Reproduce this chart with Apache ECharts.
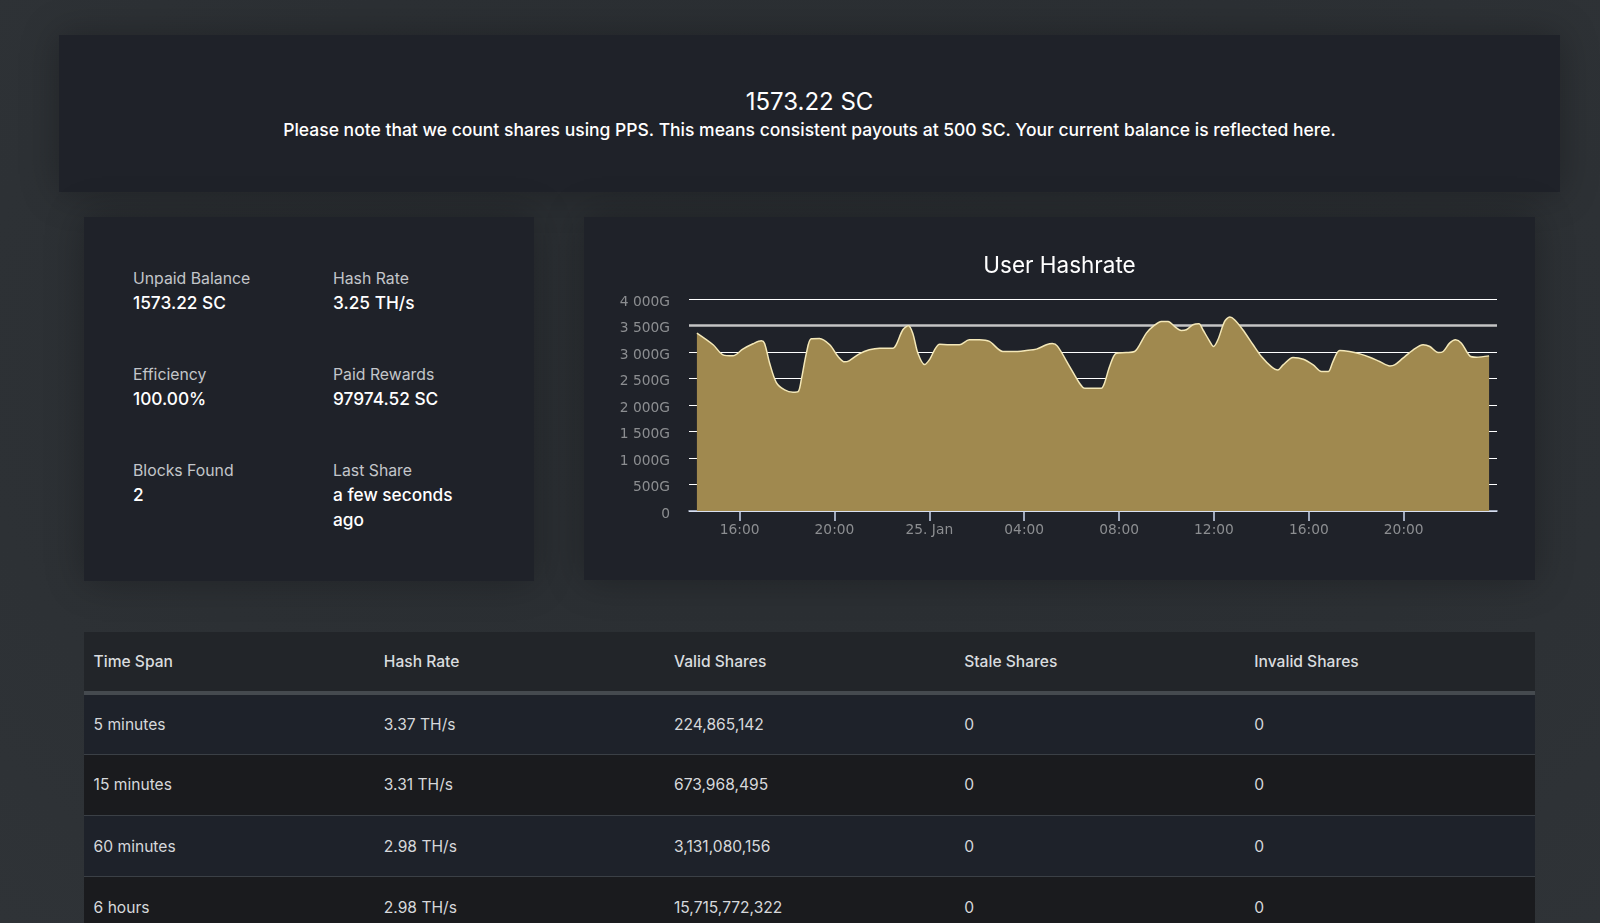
<!DOCTYPE html>
<html>
<head>
<meta charset="utf-8">
<script src="https://cdn.jsdelivr.net/npm/echarts@6/dist/echarts.min.js"></script>
<style>
  html, body { margin:0; padding:0; width:1600px; height:923px; overflow:hidden; }
  body { background: radial-gradient(ellipse at 50% 40%, #2a2e32 0%, #2c3034 60%, #2f3337 100%); font-family: Inter, "Noto Sans", sans-serif; color:#fff; position:relative; }
  .card { position:absolute; background:#1f2229; box-shadow: 0 0 36px rgba(0,0,0,0.28); }
  #banner { left:59px; top:35px; width:1501px; height:157px; text-align:center; }
  #banner .big { position:absolute; left:0; right:0; top:53px; font-size:24px; line-height:28px; color:#fff; }
  #banner .note { position:absolute; left:0; right:0; top:84px; font-size:17.5px; line-height:22px; font-weight:500; color:#fff; }
  #stats { left:84px; top:217px; width:450px; height:364px; }
  .stat { position:absolute; width:150px; }
  .stat .lab { font-size:15.8px; line-height:22px; color:#c3c6ca; }
  .stat .val { font-size:17.3px; line-height:25px; font-weight:500; color:#fff; width:140px; }
  #chartcard { left:584px; top:217px; width:951px; height:363px; }
  #chart { position:absolute; left:0; top:0; width:951px; height:363px; }
  #tbl { position:absolute; left:84px; top:632px; width:1451px; border-collapse:collapse; table-layout:fixed; font-size:15.6px; }
  #tbl th, #tbl td { text-align:left; padding:0 0 0 9.6px; box-sizing:border-box; }
  #tbl thead tr { background:#222529; height:61px; }
  #tbl th { font-weight:500; color:#d9dcdf; border-bottom:4px solid #454a4f; }
  #tbl tbody tr { height:61.3px; }
  #tbl td { color:#d6d8db; border-top:1px solid #3b4046; }
  #tbl tbody tr:nth-child(odd) { background:#1e222a; }
  #tbl tbody tr:nth-child(even) { background:#1a1b1e; }
  #tbl tbody tr:first-child td { border-top:none; }
</style>
</head>
<body>
<div class="card" id="banner">
  <div class="big">1573.22 SC</div>
  <div class="note">Please note that we count shares using PPS. This means consistent payouts at 500 SC. Your current balance is reflected here.</div>
</div>

<div class="card" id="stats"></div>

<div class="card" id="chartcard"><div id="chart"></div></div>

<table id="tbl">
  <colgroup><col><col><col><col><col></colgroup>
  <thead><tr id="thead"></tr></thead>
  <tbody id="tbody"></tbody>
</table>

<script>
// ---- page data ----
const statLabels = ['Unpaid Balance', 'Hash Rate', 'Efficiency', 'Paid Rewards', 'Blocks Found', 'Last Share'];
const statValues = ['1573.22 SC', '3.25 TH/s', '100.00%', '97974.52 SC', '2', 'a few seconds ago'];

const tableHeaders = ['Time Span', 'Hash Rate', 'Valid Shares', 'Stale Shares', 'Invalid Shares'];
const spans = ['5 minutes', '15 minutes', '60 minutes', '6 hours'];
const spanHashRates = ['3.37 TH/s', '3.31 TH/s', '2.98 TH/s', '2.98 TH/s'];
const validShares = ['224,865,142', '673,968,495', '3,131,080,156', '15,715,772,322'];
const staleShares = ['0', '0', '0', '0'];
const invalidShares = ['0', '0', '0', '0'];

// ---- chart data (hashrate in G) ----
const times = [
  '2018-01-24 14:12','2018-01-24 14:53','2018-01-24 15:18','2018-01-24 15:43','2018-01-24 16:08',
  '2018-01-24 16:34','2018-01-24 16:55','2018-01-24 17:03','2018-01-24 17:16','2018-01-24 17:33',
  '2018-01-24 17:54','2018-01-24 18:15','2018-01-24 18:28','2018-01-24 18:36','2018-01-24 18:49',
  '2018-01-24 19:01','2018-01-24 19:22','2018-01-24 19:48','2018-01-24 20:09','2018-01-24 20:26',
  '2018-01-24 20:38','2018-01-24 21:03','2018-01-24 21:28','2018-01-24 21:54','2018-01-24 22:28',
  '2018-01-24 22:36','2018-01-24 22:53','2018-01-24 23:07','2018-01-24 23:18','2018-01-24 23:31',
  '2018-01-24 23:48','2018-01-25 00:00','2018-01-25 00:26','2018-01-25 00:51','2018-01-25 01:16',
  '2018-01-25 01:41','2018-01-25 02:07','2018-01-25 02:32','2018-01-25 03:06','2018-01-25 03:31',
  '2018-01-25 04:05','2018-01-25 04:31','2018-01-25 04:56','2018-01-25 05:11','2018-01-25 05:24',
  '2018-01-25 05:55','2018-01-25 06:20','2018-01-25 06:33','2018-01-25 06:54','2018-01-25 07:15',
  '2018-01-25 07:23','2018-01-25 07:36','2018-01-25 07:53','2018-01-25 08:18','2018-01-25 08:39',
  '2018-01-25 08:52','2018-01-25 09:09','2018-01-25 09:26','2018-01-25 09:47','2018-01-25 10:04',
  '2018-01-25 10:20','2018-01-25 10:37','2018-01-25 10:50','2018-01-25 11:07','2018-01-25 11:22',
  '2018-01-25 11:32','2018-01-25 11:47','2018-01-25 11:59','2018-01-25 12:10','2018-01-25 12:27',
  '2018-01-25 12:40','2018-01-25 12:52','2018-01-25 13:13','2018-01-25 13:39','2018-01-25 14:00',
  '2018-01-25 14:25','2018-01-25 14:42','2018-01-25 14:55','2018-01-25 15:20','2018-01-25 15:46',
  '2018-01-25 16:11','2018-01-25 16:32','2018-01-25 16:49','2018-01-25 17:01','2018-01-25 17:18',
  '2018-01-25 17:43','2018-01-25 18:09','2018-01-25 18:34','2018-01-25 18:59','2018-01-25 19:25',
  '2018-01-25 19:37','2018-01-25 19:58','2018-01-25 20:24','2018-01-25 20:49','2018-01-25 21:06',
  '2018-01-25 21:27','2018-01-25 21:40','2018-01-25 21:56','2018-01-25 22:11','2018-01-25 22:26',
  '2018-01-25 22:47','2018-01-25 23:04','2018-01-25 23:36'
];
const hashrates = [
  3356,3136,2946,2927,3054,
  3155,3211,3167,2789,2423,
  2284,2240,2252,2473,2978,
  3249,3255,3136,2915,2814,
  2839,2965,3041,3072,3072,
  3136,3420,3495,3356,2978,
  2763,2852,3148,3136,3136,
  3230,3230,3199,3009,3009,
  3028,3054,3136,3160,3110,
  2725,2410,2315,2315,2315,
  2410,2725,2978,2990,3009,
  3136,3356,3483,3577,3577,
  3483,3407,3420,3514,3533,
  3420,3230,3104,3230,3577,
  3659,3609,3420,3136,2915,
  2725,2662,2757,2896,2864,
  2757,2631,2631,2820,3028,
  3009,2965,2902,2820,2738,
  2757,2883,3041,3136,3104,
  2990,3009,3167,3230,3167,
  2927,2902,2927
];
const xTickTimes = ['2018-01-24 16:00','2018-01-24 20:00','2018-01-25 00:00','2018-01-25 04:00',
                    '2018-01-25 08:00','2018-01-25 12:00','2018-01-25 16:00','2018-01-25 20:00'];
const xAxisMin = '2018-01-24 13:52';
const xAxisMax = '2018-01-25 23:56';
const markValue = 3500;

// ---- build page ----
const statsEl = document.getElementById('stats');
statLabels.forEach((lab, i) => {
  const col = i % 2, row = Math.floor(i / 2);
  const d = document.createElement('div');
  d.className = 'stat';
  d.style.left = (49 + col * 200) + 'px';
  d.style.top = (50.5 + row * 96.3) + 'px';
  d.innerHTML = '<div class="lab">' + lab + '</div><div class="val">' + statValues[i] + '</div>';
  statsEl.appendChild(d);
});
const th = document.getElementById('thead');
tableHeaders.forEach(h => { const c = document.createElement('th'); c.textContent = h; th.appendChild(c); });
const tb = document.getElementById('tbody');
spans.forEach((s, i) => {
  const tr = document.createElement('tr');
  [s, spanHashRates[i], validShares[i], staleShares[i], invalidShares[i]].forEach(v => {
    const td = document.createElement('td'); td.textContent = v; tr.appendChild(td);
  });
  tb.appendChild(tr);
});

// ---- chart ----
function toMs(s) {
  const [d, t] = s.split(' ');
  const [Y, M, D] = d.split('-').map(Number);
  const [h, m] = t.split(':').map(Number);
  return Date.UTC(Y, M - 1, D, h, m);
}
const seriesData = times.map((t, i) => [toMs(t), hashrates[i]]);
const tickMs = xTickTimes.map(toMs);
const months = ['Jan','Feb','Mar','Apr','May','Jun','Jul','Aug','Sep','Oct','Nov','Dec'];
function fmtX(v) {
  const d = new Date(v);
  const h = d.getUTCHours(), m = d.getUTCMinutes();
  if (h === 0 && m === 0) return d.getUTCDate() + '. ' + months[d.getUTCMonth()];
  return String(h).padStart(2, '0') + ':' + String(m).padStart(2, '0');
}
function fmtY(v) {
  if (v === 0) return '0';
  if (v >= 1000) return Math.floor(v / 1000) + ' ' + String(v % 1000).padStart(3, '0') + 'G';
  return v + 'G';
}

const chart = echarts.init(document.getElementById('chart'), null, { renderer: 'canvas' });
chart.setOption({
  backgroundColor: 'transparent',
  animation: false,
  title: {
    text: 'User Hashrate', left: 'center', top: 33,
    textStyle: { color: '#ffffff', fontSize: 22.5, fontWeight: 'normal', fontFamily: 'Inter' }
  },
  grid: { left: 105, right: 38, top: 82, bottom: 69, containLabel: false },
  xAxis: {
    type: 'value',
    min: toMs(xAxisMin), max: toMs(xAxisMax),
    axisLine: { show: true, onZero: false, lineStyle: { color: '#ccd6eb', width: 1.5 } },
    axisTick: { show: true, length: 10, lineStyle: { color: '#ccd6eb', width: 1.5 }, customValues: tickMs },
    axisLabel: { color: '#8c8e91', fontSize: 13.8, fontFamily: 'DejaVu Sans', margin: 12,
                 customValues: tickMs, formatter: fmtX },
    splitLine: { show: false }
  },
  yAxis: {
    type: 'value', min: 0, max: 4000, interval: 500,
    axisLine: { show: false }, axisTick: { show: false },
    axisLabel: { color: '#8c8e91', fontSize: 13.8, fontFamily: 'DejaVu Sans', margin: 19,
                 verticalAlign: 'top', lineHeight: 6, formatter: fmtY },
    splitLine: { show: true, lineStyle: { color: '#ffffff', width: 1 } }
  },
  series: [
    {
      type: 'line', z: 1, silent: true, data: seriesData, symbol: 'none',
      lineStyle: { width: 0, opacity: 0 },
      markLine: {
        z: 1, silent: true, symbol: 'none', label: { show: false },
        lineStyle: { color: '#c4c4c4', width: 2.5, type: 'solid' },
        data: [{ yAxis: markValue }]
      }
    },
    {
      type: 'line', z: 3, data: seriesData, smooth: 0.3, symbol: 'none',
      lineStyle: { color: '#f4e8b8', width: 1.5 },
      areaStyle: { color: '#a0894f', opacity: 1 }
    }
  ]
});
</script>
</body>
</html>
